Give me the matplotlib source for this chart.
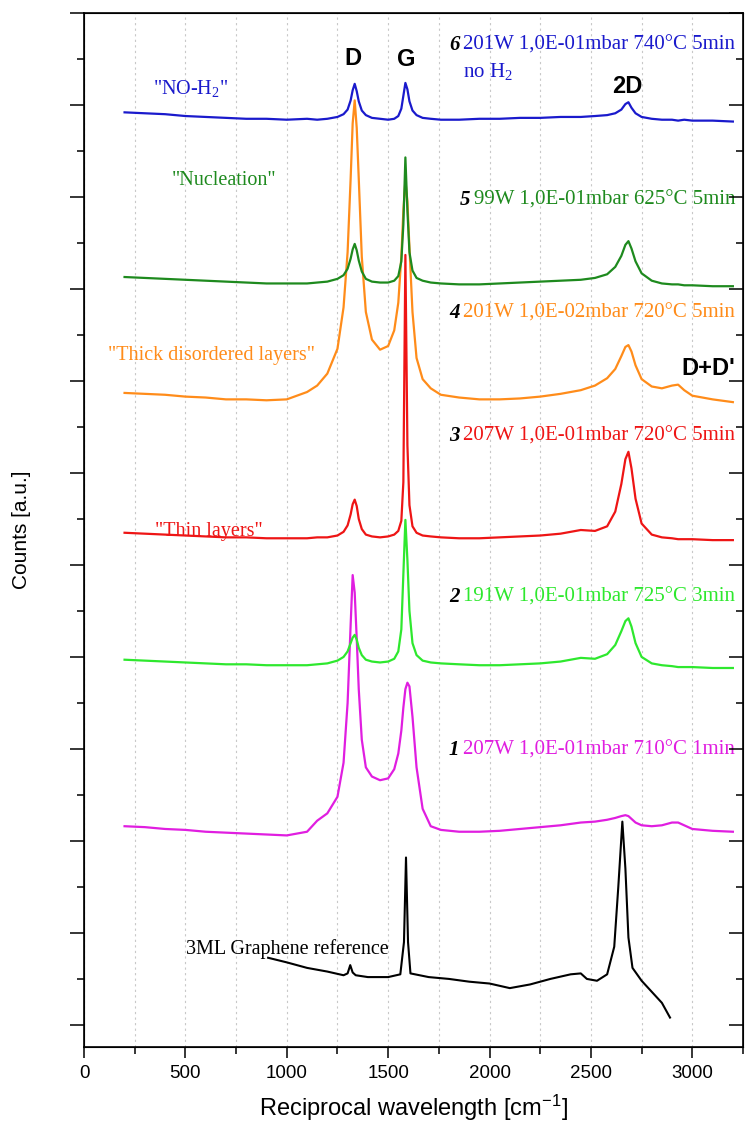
import matplotlib
matplotlib.use('Agg')
import matplotlib.pyplot as plt
from matplotlib.ticker import MultipleLocator

# shared wavenumber grid of the six sample spectra [cm-1]
wavenumber = [200, 300, 400, 500, 600, 700, 800, 900, 1000, 1100, 1150, 1200, 1250, 1280, 1300,
              1315, 1325, 1335, 1345, 1355, 1370, 1390, 1420, 1460, 1500, 1530, 1550, 1565, 1575, 1585,
              1595, 1605, 1620, 1640, 1670, 1710, 1760, 1850, 1950, 2050, 2150, 2250, 2350, 2450, 2520,
              2580, 2620, 2650, 2670, 2685, 2700, 2720, 2750, 2800, 2850, 2900, 2930, 2960, 3000, 3100, 3200]

# offset counts (a.u.)
counts_6 = [9.92, 9.91, 9.90, 9.88, 9.87, 9.86, 9.85, 9.85, 9.84, 9.85, 9.84, 9.85, 9.87, 9.90, 9.95,
            10.05, 10.16, 10.23, 10.15, 10.04, 9.94, 9.89, 9.86, 9.85, 9.84, 9.85, 9.88, 9.96, 10.10, 10.24,
            10.17, 10.04, 9.94, 9.89, 9.86, 9.85, 9.84, 9.84, 9.85, 9.85, 9.86, 9.86, 9.87, 9.87, 9.88,
            9.89, 9.91, 9.95, 10.01, 10.03, 9.97, 9.91, 9.87, 9.85, 9.84, 9.84, 9.83, 9.84, 9.83, 9.83, 9.82]
counts_5 = [8.13, 8.12, 8.11, 8.10, 8.09, 8.08, 8.07, 8.06, 8.06, 8.06, 8.07, 8.08, 8.11, 8.15, 8.22,
            8.33, 8.43, 8.49, 8.42, 8.31, 8.19, 8.11, 8.08, 8.07, 8.07, 8.09, 8.14, 8.30, 8.70, 9.43,
            8.85, 8.40, 8.20, 8.12, 8.09, 8.07, 8.06, 8.05, 8.05, 8.06, 8.07, 8.08, 8.09, 8.10, 8.12,
            8.16, 8.24, 8.36, 8.48, 8.52, 8.44, 8.30, 8.17, 8.09, 8.06, 8.05, 8.05, 8.04, 8.04, 8.03, 8.03]
counts_4 = [6.87, 6.86, 6.85, 6.83, 6.82, 6.80, 6.80, 6.79, 6.80, 6.88, 6.95, 7.08, 7.35, 7.80, 8.40,
            9.20, 9.80, 10.05, 9.75, 9.20, 8.35, 7.75, 7.45, 7.34, 7.38, 7.55, 7.85, 8.35, 8.85, 9.18,
            8.95, 8.45, 7.75, 7.25, 7.02, 6.92, 6.85, 6.82, 6.80, 6.80, 6.81, 6.83, 6.86, 6.90, 6.95,
            7.03, 7.13, 7.27, 7.37, 7.39, 7.32, 7.17, 7.02, 6.94, 6.92, 6.95, 6.96, 6.90, 6.84, 6.80, 6.77]
counts_3 = [5.35, 5.34, 5.33, 5.32, 5.31, 5.30, 5.30, 5.29, 5.29, 5.29, 5.30, 5.30, 5.32, 5.36, 5.43,
            5.55, 5.66, 5.71, 5.64, 5.50, 5.39, 5.33, 5.31, 5.30, 5.31, 5.33, 5.37, 5.48, 5.90, 8.37,
            6.30, 5.65, 5.42, 5.35, 5.32, 5.31, 5.30, 5.29, 5.29, 5.30, 5.31, 5.32, 5.34, 5.38, 5.37,
            5.42, 5.58, 5.88, 6.15, 6.23, 6.05, 5.72, 5.45, 5.33, 5.30, 5.29, 5.28, 5.28, 5.28, 5.27, 5.27]
counts_2 = [3.97, 3.96, 3.95, 3.94, 3.93, 3.92, 3.92, 3.91, 3.91, 3.91, 3.92, 3.93, 3.96, 4.00, 4.06,
            4.15, 4.21, 4.24, 4.19, 4.10, 4.02, 3.97, 3.95, 3.94, 3.95, 3.98, 4.06, 4.30, 4.90, 5.49,
            5.05, 4.50, 4.15, 4.02, 3.96, 3.94, 3.93, 3.92, 3.91, 3.91, 3.92, 3.93, 3.95, 3.99, 3.98,
            4.03, 4.13, 4.28, 4.39, 4.42, 4.33, 4.15, 4.00, 3.93, 3.91, 3.90, 3.89, 3.89, 3.89, 3.88, 3.88]
counts_1 = [2.16, 2.15, 2.13, 2.12, 2.10, 2.09, 2.08, 2.07, 2.06, 2.10, 2.22, 2.30, 2.48, 2.85, 3.50,
            4.35, 4.89, 4.70, 4.20, 3.65, 3.10, 2.80, 2.70, 2.66, 2.68, 2.78, 2.95, 3.20, 3.45, 3.65,
            3.72, 3.68, 3.35, 2.80, 2.35, 2.16, 2.12, 2.10, 2.10, 2.11, 2.13, 2.15, 2.17, 2.20, 2.21,
            2.23, 2.25, 2.27, 2.28, 2.27, 2.24, 2.20, 2.17, 2.16, 2.17, 2.20, 2.20, 2.17, 2.13, 2.11, 2.10]

# 3ML graphene reference spectrum
ref_wavenumber = [908, 1000, 1100, 1200, 1280, 1300, 1313, 1325, 1340, 1400, 1500, 1560, 1578, 1588,
                  1598, 1610, 1700, 1800, 1900, 2000, 2100, 2200, 2300, 2400, 2450, 2480, 2530, 2580,
                  2615, 2635, 2655, 2670, 2685, 2705, 2750, 2800, 2850, 2890]
ref_counts = [0.73, 0.68, 0.62, 0.58, 0.54, 0.56, 0.65, 0.57, 0.54, 0.52, 0.52, 0.55, 0.90, 1.82,
              0.90, 0.56, 0.52, 0.50, 0.47, 0.45, 0.40, 0.44, 0.50, 0.55, 0.56, 0.50, 0.48, 0.55,
              0.85, 1.50, 2.21, 1.70, 0.95, 0.62, 0.48, 0.36, 0.24, 0.08]

colors = {'6': '#1a1acc', '5': '#1e8a1e', '4': '#ff8c1a', '3': '#ee1515', '2': '#2ee82e', '1': '#e01ee0'}
spectra = {'6': counts_6, '5': counts_5, '4': counts_4, '3': counts_3, '2': counts_2, '1': counts_1}

# sample conditions: (number, text, label y)
conditions = [('6', '201W 1,0E-01mbar 740°C 5min', 10.65),
              ('5', '99W 1,0E-01mbar 625°C 5min', 8.97),
              ('4', '201W 1,0E-02mbar 720°C 5min', 7.74),
              ('3', '207W 1,0E-01mbar 720°C 5min', 6.40),
              ('2', '191W 1,0E-01mbar 725°C 3min', 4.65),
              ('1', '207W 1,0E-01mbar 710°C 1min', 2.99)]

# regime labels on the left: (text, x, y, color key)
regimes = [('"NO-H$\\mathregular{_2}$"', 340, 10.18, '6'),
           ('"Nucleation"', 434, 9.18, '5'),
           ('"Thick disordered layers"', 118, 7.28, '4'),
           ('"Thin layers"', 350, 5.36, '3')]

serif = ['Liberation Serif', 'DejaVu Serif']
sans = ['Liberation Sans', 'DejaVu Sans']

fig = plt.figure(figsize=(7.54, 11.24), dpi=100)
ax = fig.add_axes([84 / 754, 77 / 1124, 659 / 754, 1034 / 1124])

# draw the lower spectra first so the upper ones sit on top where peaks cross
for key in ['1', '2', '3', '4', '5', '6']:
    ax.plot(wavenumber, spectra[key], color=colors[key], lw=1.6, zorder=3)
ax.plot(ref_wavenumber, ref_counts, color='black', lw=1.5, zorder=3)

ax.set_xlim(0, 3250)
ax.set_ylim(-0.24, 11.0)
ax.xaxis.set_major_locator(MultipleLocator(500))
ax.xaxis.set_minor_locator(MultipleLocator(250))
ax.yaxis.set_major_locator(MultipleLocator(1))
ax.yaxis.set_minor_locator(MultipleLocator(0.5))
ax.grid(True, which='both', axis='x', color='#c8c8c8', linestyle=(0, (2, 3)), lw=0.8, zorder=0)
ax.tick_params(axis='x', which='major', direction='out', length=8, width=1.1, labelsize=13.5, pad=5)
ax.tick_params(axis='x', which='minor', direction='out', length=5, width=1.1)
ax.tick_params(axis='y', which='major', direction='out', length=10, width=1.1, labelleft=False)
ax.tick_params(axis='y', which='minor', direction='out', length=5, width=1.1)
for lab in ax.get_xticklabels():
    lab.set_family(sans)
for sp in ax.spines.values():
    sp.set_linewidth(1.2)

# inward ticks on the right side
axr = ax.twinx()
axr.set_ylim(ax.get_ylim())
axr.yaxis.set_major_locator(MultipleLocator(1))
axr.yaxis.set_minor_locator(MultipleLocator(0.5))
axr.tick_params(axis='y', which='major', direction='in', length=10, width=1.1, labelright=False)
axr.tick_params(axis='y', which='minor', direction='in', length=5, width=1.1)

ax.set_xlabel('Reciprocal wavelength [cm$\\mathregular{^{-1}}$]', family=sans, fontsize=17, labelpad=8)
fig.text(22 / 754, 1 - 530 / 1124, 'Counts [a.u.]', rotation=90, family=sans, fontsize=15,
         ha='center', va='center')

# peak labels
for txt, x, y in [('D', 1327, 10.51), ('G', 1588, 10.49), ('2D', 2679, 10.20), ("D+D'", 3078, 7.14)]:
    ax.text(x, y, txt, family=sans, fontsize=17, fontweight='bold', ha='center', va='center')

fig.canvas.draw()
renderer = fig.canvas.get_renderer()
inv = ax.transData.inverted()
for num, txt, y in conditions:
    t = ax.text(3212, y, txt, family=serif, fontsize=15, color=colors[num], ha='right', va='center')
    x0 = t.get_window_extent(renderer).x0
    xd = inv.transform((x0 - 4, 0))[0]
    ax.text(xd, y, num, family=serif, fontsize=15, fontweight='bold', style='italic',
            color='black', ha='right', va='center')
ax.text(1870, 10.36, 'no H$\\mathregular{_2}$', family=serif, fontsize=15, color=colors['6'],
        ha='left', va='center')

for txt, x, y, key in regimes:
    ax.text(x, y, txt, family=serif, fontsize=14.5, color=colors[key], ha='left', va='center', zorder=2)
ax.text(503, 0.82, '3ML Graphene reference', family=serif, fontsize=14.5, color='black',
        ha='left', va='center')

fig.savefig('out.png', dpi=100)
